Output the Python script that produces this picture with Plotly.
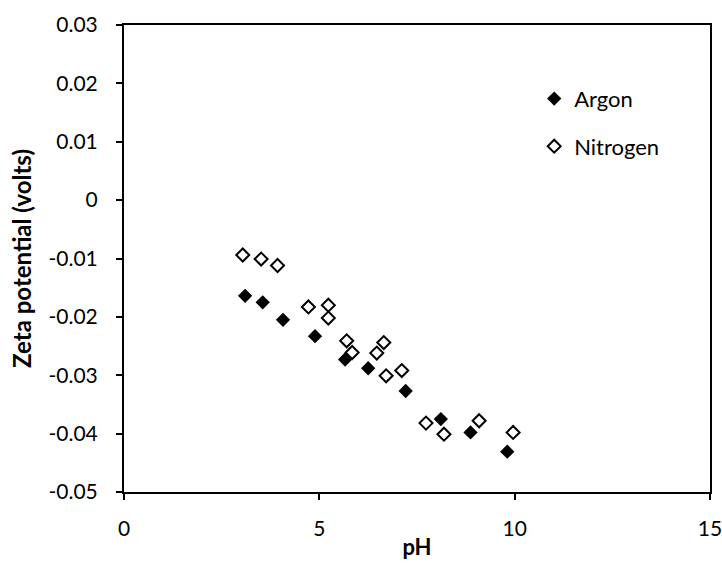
import plotly.graph_objects as go

argon_ph = [3.10, 3.55, 4.07, 4.89, 5.66, 6.25, 7.21, 8.11, 8.87, 9.81]
argon_zeta = [-0.0164, -0.0175, -0.0205, -0.0233, -0.0273, -0.0288, -0.0327, -0.0375, -0.0398, -0.0431]

nitrogen_ph = [3.04, 3.51, 3.93, 4.72, 5.23, 5.23, 5.70, 5.84, 6.47, 6.65, 6.71, 7.11, 7.73, 8.19, 9.09, 9.96]
nitrogen_zeta = [-0.0094, -0.0101, -0.0112, -0.0183, -0.0180, -0.0202, -0.0241, -0.0261, -0.0262, -0.0244,
                 -0.0301, -0.0292, -0.0382, -0.0401, -0.0378, -0.0398]

y_ticks = [0.03, 0.02, 0.01, 0, -0.01, -0.02, -0.03, -0.04, -0.05]
y_tick_labels = ["0.03", "0.02", "0.01", "0", "-0.01", "-0.02", "-0.03", "-0.04", "-0.05"]
x_ticks = [0, 5, 10, 15]

FONT = "Lato, Open Sans, sans-serif"

fig = go.Figure()
fig.add_trace(go.Scatter(
    x=argon_ph, y=argon_zeta, mode="markers", name="Argon", legendgroup="a",
    marker=dict(symbol="diamond", size=11, color="black", line=dict(width=0)),
))
fig.add_trace(go.Scatter(
    x=nitrogen_ph, y=nitrogen_zeta, mode="markers", name="Nitrogen", legendgroup="n",
    marker=dict(symbol="diamond", size=10, color="white", line=dict(width=2, color="black")),
))

fig.update_layout(
    width=722, height=564,
    margin=dict(l=124, r=12, t=25, b=72),
    paper_bgcolor="white", plot_bgcolor="white",
    font=dict(family=FONT, size=21, color="black"),
    showlegend=True,
    legend=dict(x=0.70, y=0.887, xanchor="left", yanchor="top",
                bgcolor="rgba(0,0,0,0)", font=dict(size=22),
                traceorder="grouped", tracegroupgap=16, itemwidth=30),
)
fig.update_xaxes(
    range=[0, 15], tickvals=x_ticks, ticktext=[str(v) for v in x_ticks],
    showgrid=False, zeroline=False, automargin=False,
    showline=True, linecolor="black", linewidth=2, mirror=True,
    ticks="outside", ticklen=6, tickwidth=1.5, tickcolor="black",
    ticklabelstandoff=11, ticklabeloverflow="allow",
    title=dict(text="<b>pH</b>", font=dict(size=22), standoff=0),
)
fig.update_yaxes(
    range=[-0.05, 0.03], tickvals=y_ticks, ticktext=y_tick_labels,
    showgrid=False, zeroline=False, automargin=False,
    showline=True, linecolor="black", linewidth=2, mirror=True,
    ticks="outside", ticklen=6, tickwidth=1.5, tickcolor="black",
    ticklabelstandoff=14, ticklabeloverflow="allow",
    title=dict(text="<b>Zeta potential (volts)</b>", font=dict(size=24), standoff=10),
)

fig.write_html("out.html")
